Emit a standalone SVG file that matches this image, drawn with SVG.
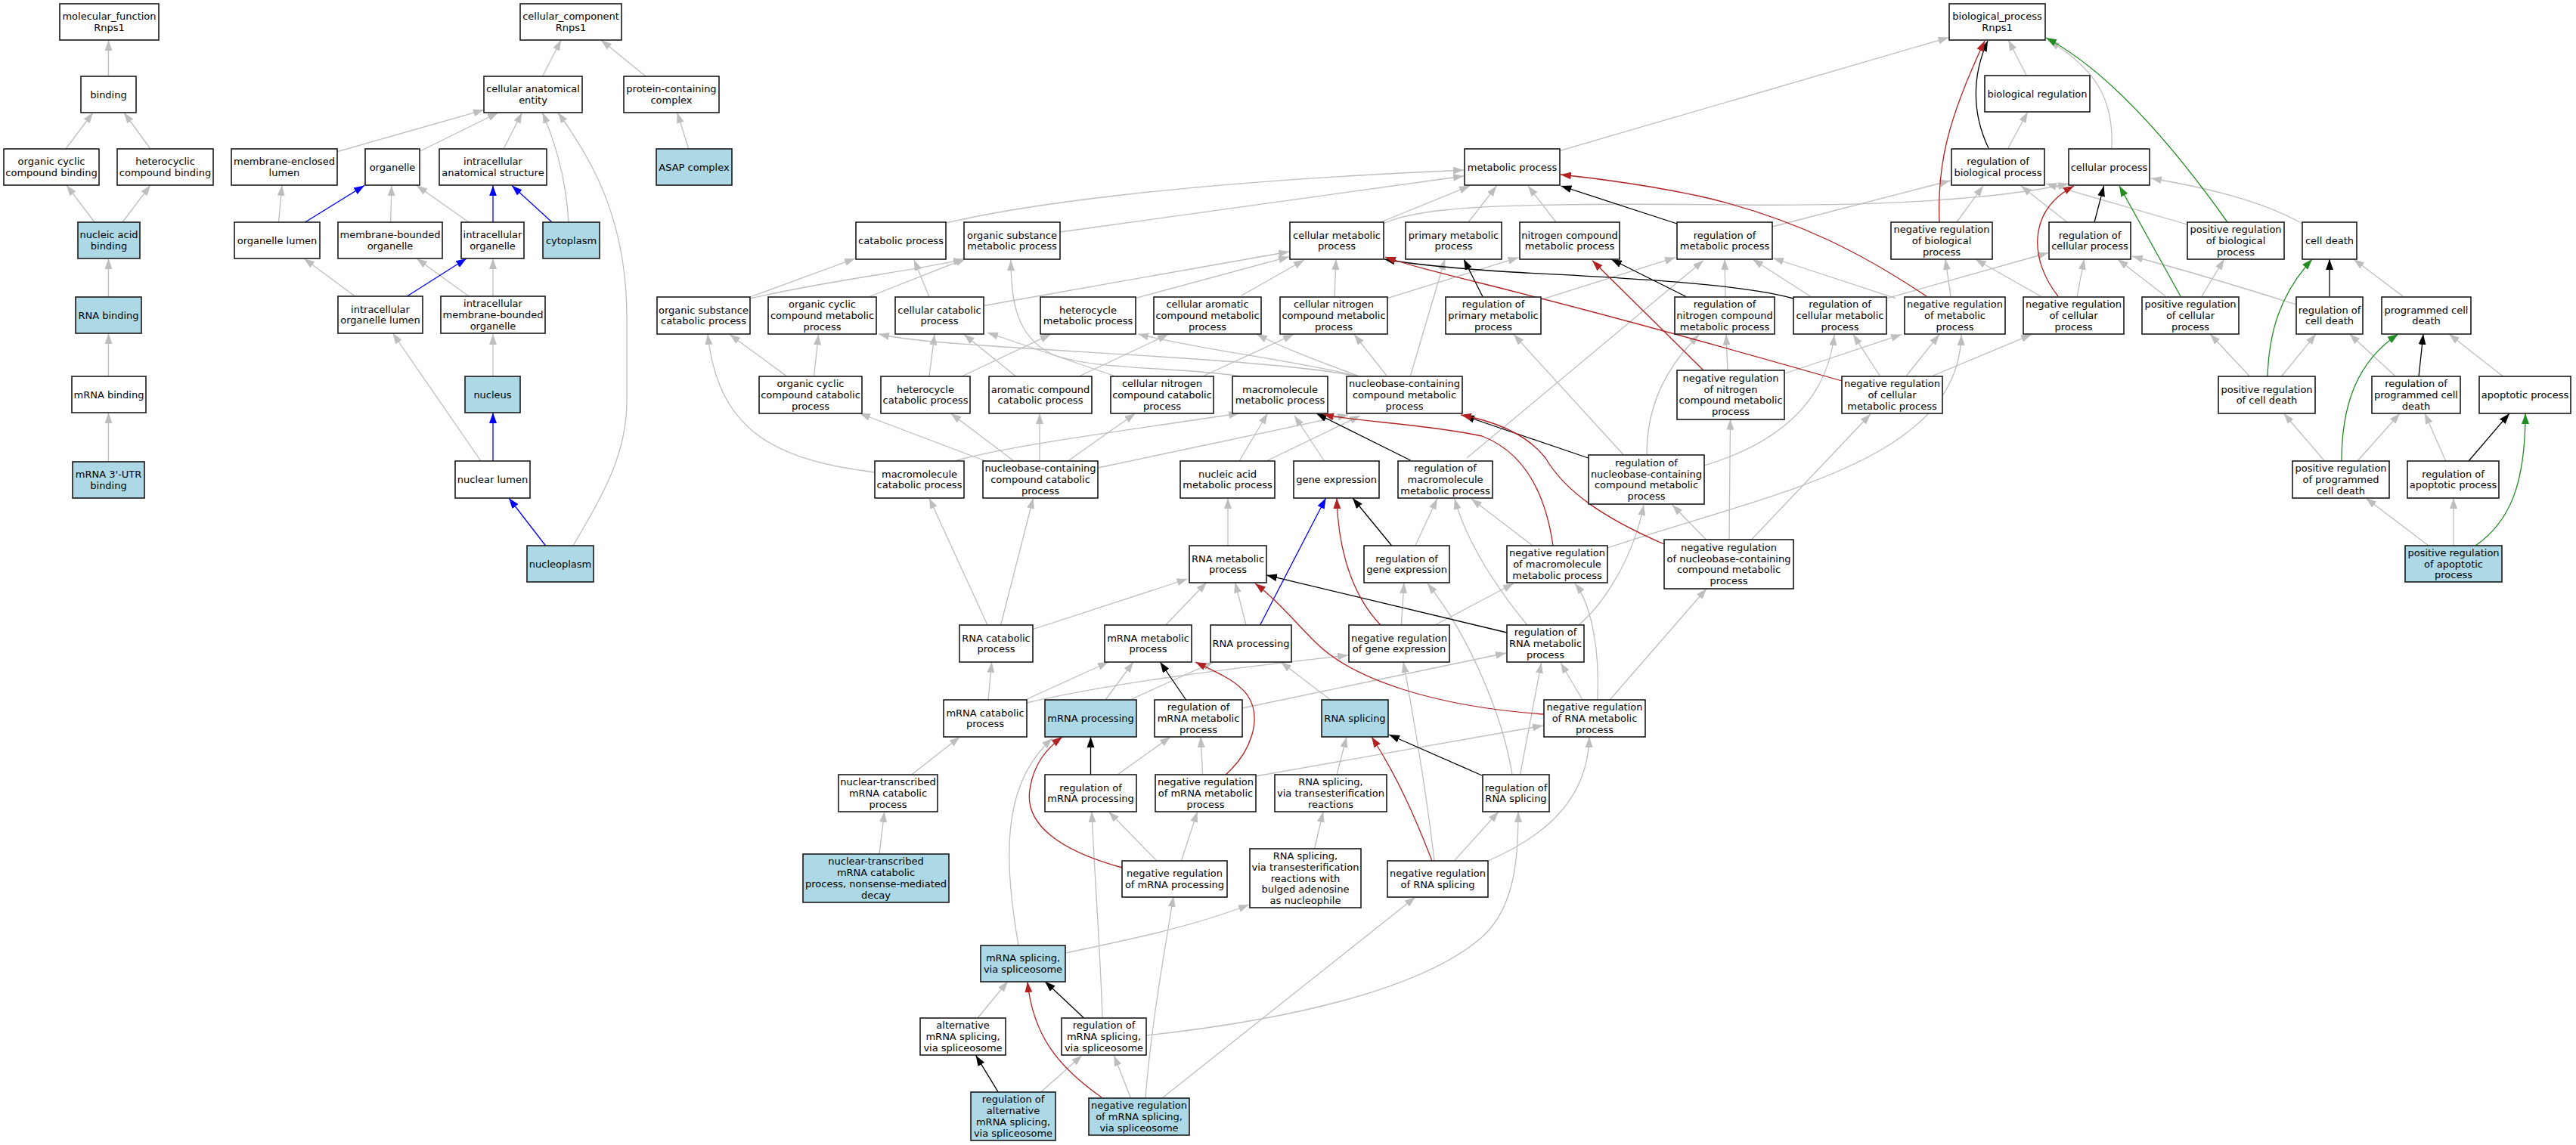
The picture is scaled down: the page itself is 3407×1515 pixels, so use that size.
<svg xmlns="http://www.w3.org/2000/svg" width="3407" height="1515" viewBox="0 0 3407 1515">
<defs>
<style>
.n rect{fill:#fff;stroke:#1a1a1a;stroke-width:1.6}
.n.a rect{fill:#add8e6}
.n text{font-family:"DejaVu Sans",sans-serif;font-size:13px;text-anchor:middle;fill:#000}
#edges path{fill:none;stroke-width:1.3}
.g{stroke:#bebebe;marker-end:url(#ag)}
.k{stroke:#000;marker-end:url(#ak)}
.r{stroke:#b22222;marker-end:url(#ar)}
.v{stroke:#228b22;marker-end:url(#av)}
.b{stroke:#0000ff;marker-end:url(#ab)}
</style>
<marker id="ag" viewBox="0 0 14 10" refX="14" refY="5" markerWidth="14" markerHeight="10" markerUnits="userSpaceOnUse" orient="auto"><path d="M0,0L14,5L0,10z" fill="#bebebe"/></marker>
<marker id="ak" viewBox="0 0 14 10" refX="14" refY="5" markerWidth="14" markerHeight="10" markerUnits="userSpaceOnUse" orient="auto"><path d="M0,0L14,5L0,10z" fill="#000"/></marker>
<marker id="ar" viewBox="0 0 14 10" refX="14" refY="5" markerWidth="14" markerHeight="10" markerUnits="userSpaceOnUse" orient="auto"><path d="M0,0L14,5L0,10z" fill="#b22222"/></marker>
<marker id="av" viewBox="0 0 14 10" refX="14" refY="5" markerWidth="14" markerHeight="10" markerUnits="userSpaceOnUse" orient="auto"><path d="M0,0L14,5L0,10z" fill="#228b22"/></marker>
<marker id="ab" viewBox="0 0 14 10" refX="14" refY="5" markerWidth="14" markerHeight="10" markerUnits="userSpaceOnUse" orient="auto"><path d="M0,0L14,5L0,10z" fill="#0000ff"/></marker>
</defs>
<rect x="0" y="0" width="3407" height="1515" fill="#fff"/>
<g id="edges">
<path class="g" d="M143.5,101L143.5,53"/>
<path class="g" d="M87,197L123,149"/>
<path class="g" d="M199,197L164,149"/>
<path class="g" d="M125,294L88,245"/>
<path class="g" d="M162,294L199,245"/>
<path class="g" d="M143.5,393L143.5,342"/>
<path class="g" d="M143.5,498L143.5,441"/>
<path class="g" d="M143.5,611L143.5,546"/>
<path class="g" d="M717.5,101L742,53"/>
<path class="g" d="M854,101L795,53"/>
<path class="g" d="M910.7,197L895.7,149"/>
<path class="g" d="M446.6,200.5L640,145.4"/>
<path class="g" d="M554.5,200.5L659,149"/>
<path class="g" d="M666,197L690.5,149"/>
<path class="g" d="M752,294Q748,220 717.5,149"/>
<path class="g" d="M758,722C800,650 829,600 829,530L829,420C829,300 790,220 738,149"/>
<path class="g" d="M368.5,294L373,245"/>
<path class="g" d="M516.6,294L518,245.4"/>
<path class="g" d="M620,294L551,245.4"/>
<path class="g" d="M469.5,392L402,342"/>
<path class="g" d="M620,392L551,342"/>
<path class="g" d="M652,392L652,342"/>
<path class="g" d="M652,498L652,442"/>
<path class="g" d="M636,610L519.5,441"/>
<path class="b" d="M403.5,294L482,245.4"/>
<path class="b" d="M652,294L652,245.4"/>
<path class="b" d="M730,294L677,245.4"/>
<path class="b" d="M538.4,392L617,342"/>
<path class="b" d="M652,610L652,546"/>
<path class="b" d="M722,722.5L673,659"/>
<path class="b" d="M1666.6,827L1753.6,659"/>
<path class="g" d="M2062.4,199.6L2577.5,49.6"/>
<path class="g" d="M2680.5,100.3L2656.3,53"/>
<path class="g" d="M2656,196L2681.7,148.3"/>
<path class="g" d="M2793,196C2796,130 2770,90 2710,54"/>
<path class="g" d="M2587.8,294L2623,246"/>
<path class="g" d="M2734,294L2673,246"/>
<path class="g" d="M2344,300L2579.5,239"/>
<path class="g" d="M2893,297L2706,243"/>
<path class="g" d="M1829,296C1880,272 2000,268 2300,271C2500,273 2650,262 2736,243"/>
<path class="g" d="M3045,296C3000,270 2930,250 2845,236"/>
<path class="g" d="M2747,392.5L2756.5,343"/>
<path class="g" d="M2863.5,391.6L2801,343"/>
<path class="g" d="M3037,403C2980,385 2900,360 2820,339"/>
<path class="g" d="M2496,394.6L2709,334.5"/>
<path class="g" d="M2580,392.5L2573,343"/>
<path class="g" d="M2700,392.5L2612.7,343"/>
<path class="g" d="M2912,392L2941.6,343"/>
<path class="g" d="M3178,392L3113,343"/>
<path class="g" d="M3017,498.5L3063,442"/>
<path class="g" d="M3169,498.5L3107.5,442"/>
<path class="g" d="M2976,498.5L2923,442"/>
<path class="g" d="M3311,498.5L3239,442"/>
<path class="g" d="M3074.5,610L3020.5,547"/>
<path class="g" d="M3118,610L3174,547"/>
<path class="g" d="M3234.7,610L3207,547"/>
<path class="g" d="M3212,722L3129,659"/>
<path class="g" d="M3245,722L3245,659"/>
<path class="g" d="M1251,295C1350,272 1550,242 1936,225"/>
<path class="g" d="M1402,307L1936,233"/>
<path class="g" d="M1826,294L1944,246"/>
<path class="g" d="M1942,294L1979.5,246"/>
<path class="g" d="M2058,294L2021,246"/>
<path class="g" d="M1301,404.5L1705,333"/>
<path class="g" d="M1501.5,394.6L1705,339.7"/>
<path class="g" d="M1642,391L1725,344"/>
<path class="g" d="M1765,392.5L1767,343"/>
<path class="g" d="M1865.5,497L1911,343"/>
<path class="g" d="M1835,394.6L2008.5,340.7"/>
<path class="g" d="M2282,392.5L2281,343"/>
<path class="g" d="M2395,392.5L2318,343"/>
<path class="g" d="M2507,394.6L2345,341.5"/>
<path class="g" d="M2037.6,396.6L2216,340.7"/>
<path class="g" d="M1940,606L2253,344.8"/>
<path class="g" d="M992,395C1100,370 1200,360 1275,343"/>
<path class="g" d="M1148.5,393L1277.6,342"/>
<path class="g" d="M1642,498C1560,485 1440,490 1390,468C1345,445 1337,400 1337,344"/>
<path class="g" d="M992,393L1131,342"/>
<path class="g" d="M1229,393L1209,344"/>
<path class="g" d="M1039.4,497L965,442.4"/>
<path class="g" d="M1157,625C1040,610 950,580 936,442"/>
<path class="g" d="M1076.7,497L1082.5,442.4"/>
<path class="g" d="M1795,498C1700,478 1450,468 1300,457C1220,452 1185,447 1162,442"/>
<path class="g" d="M1229,498L1236,442.4"/>
<path class="g" d="M1343.6,498L1275,442.4"/>
<path class="g" d="M1473,497L1306,440"/>
<path class="g" d="M1272,498L1389.6,442.4"/>
<path class="g" d="M1796,498C1720,478 1600,465 1505,442"/>
<path class="g" d="M1427,498L1545,442.4"/>
<path class="g" d="M1798,498C1750,480 1700,462 1662,442"/>
<path class="g" d="M1590.5,498L1711,442.4"/>
<path class="g" d="M1834,497L1791,442.6"/>
<path class="g" d="M2147.4,602L2002,442.6"/>
<path class="g" d="M2178,602C2178,540 2200,490 2247,443"/>
<path class="g" d="M2285,490.7L2283,442.6"/>
<path class="g" d="M2486,497L2451,442.6"/>
<path class="g" d="M2254,616C2340,590 2415,540 2426,443"/>
<path class="g" d="M2361,494L2515,442.6"/>
<path class="g" d="M2521.5,497L2565,442.6"/>
<path class="g" d="M2126,725C2350,650 2590,610 2594,443"/>
<path class="g" d="M2556.7,497L2687,442.6"/>
<path class="g" d="M2287,714.5L2288.5,554.6"/>
<path class="g" d="M2316,714.5L2474,548"/>
<path class="g" d="M1452,619L1783,549"/>
<path class="g" d="M1675,610L1799,550"/>
<path class="g" d="M1263,610C1330,590 1500,568 1639,547"/>
<path class="g" d="M1639,610L1676.5,547"/>
<path class="g" d="M1751.5,610L1712,550"/>
<path class="g" d="M1871.8,722L1900.8,660"/>
<path class="g" d="M2027,722L1946,660"/>
<path class="g" d="M2020,827C1985,785 1940,720 1924,660"/>
<path class="g" d="M2257,714.5L2211.7,668"/>
<path class="g" d="M2088,827C2120,800 2160,740 2174,668"/>
<path class="g" d="M1898,827L2002,772"/>
<path class="g" d="M2113,926C2116,860 2105,800 2083,772"/>
<path class="g" d="M2130,925L2257,779"/>
<path class="g" d="M1853.4,827L1857,771"/>
<path class="g" d="M2000,1025C1990,960 1950,850 1888,772"/>
<path class="g" d="M1365,833L1570.5,766"/>
<path class="g" d="M1541.7,827L1596,770.5"/>
<path class="g" d="M1648,827L1633.5,770.5"/>
<path class="g" d="M1624,722L1624,659"/>
<path class="g" d="M1306,827L1229,659"/>
<path class="g" d="M1323.6,827L1366.6,659"/>
<path class="g" d="M1303.5,610L1137,547"/>
<path class="g" d="M1341,610L1257.5,547"/>
<path class="g" d="M1375,610L1375,547"/>
<path class="g" d="M1412.5,610L1501.5,547"/>
<path class="g" d="M1307,926L1311.7,876"/>
<path class="g" d="M1356,926L1466,876"/>
<path class="g" d="M1358,930C1470,904 1620,885 1783,867"/>
<path class="g" d="M1462,926L1499,876"/>
<path class="g" d="M1494.5,926L1604.7,876"/>
<path class="g" d="M1347,1251C1330,1150 1320,1040 1392,977"/>
<path class="g" d="M1478,1025L1548,975"/>
<path class="g" d="M1590.6,1025L1588,975"/>
<path class="g" d="M1643,937L1992,864"/>
<path class="g" d="M1661,1027L2041,960"/>
<path class="g" d="M1759.7,926L1694,876"/>
<path class="g" d="M1768,1025L1781,975"/>
<path class="g" d="M2092.5,925L2064,877"/>
<path class="g" d="M1968,1139C2040,1108 2100,1060 2102,975"/>
<path class="g" d="M2010.5,1025L2038.6,877"/>
<path class="g" d="M1923.7,1138.6L1982,1074"/>
<path class="g" d="M1516,1370C1700,1350 1880,1310 1960,1240C2005,1200 2008,1130 2008,1074"/>
<path class="g" d="M1738.6,1123L1750,1074"/>
<path class="g" d="M1897,1139C1888,1060 1870,950 1856,876"/>
<path class="g" d="M1409,1261C1500,1242 1580,1225 1652,1197"/>
<path class="g" d="M1293,1347L1333,1298.5"/>
<path class="g" d="M1458,1347C1455,1250 1447,1150 1444,1074"/>
<path class="g" d="M1377,1444.7L1431,1396.4"/>
<path class="g" d="M1495.5,1452.7L1473.4,1396.4"/>
<path class="g" d="M1515,1453C1522,1360 1540,1260 1552,1186"/>
<path class="g" d="M1537,1453L1872,1187"/>
<path class="g" d="M1529.7,1138.6L1466.4,1074"/>
<path class="g" d="M1562.5,1138.6L1583.6,1074"/>
<path class="g" d="M1206,1024.7L1269.5,975"/>
<path class="g" d="M1163,1130L1169.7,1074"/>
<path class="k" d="M2630,196C2608,150 2608,100 2629,54"/>
<path class="k" d="M2770,294L2782.6,246"/>
<path class="k" d="M3081,392L3081,343"/>
<path class="k" d="M3199,498.5L3205,442"/>
<path class="k" d="M3265,610L3319,547"/>
<path class="k" d="M2218,296L2064.5,246"/>
<path class="k" d="M2372,395C2300,375 2150,368 2000,360C1920,355 1870,350 1831,343"/>
<path class="k" d="M1961,392.5L1936,343"/>
<path class="k" d="M2230,392.5L2131,343"/>
<path class="k" d="M2100.6,606L1936,550"/>
<path class="k" d="M1865.5,609L1741,547"/>
<path class="k" d="M1840.7,722L1789,659"/>
<path class="k" d="M1993,837L1675,761"/>
<path class="k" d="M1568.6,926L1534.4,876"/>
<path class="k" d="M1442.5,1025L1442.5,975"/>
<path class="k" d="M1960,1026L1837,972"/>
<path class="k" d="M1433.6,1347L1382,1298.5"/>
<path class="k" d="M1320,1444.7L1290.6,1396.4"/>
<path class="r" d="M2565,294C2562,220 2575,160 2625,54"/>
<path class="r" d="M2722,392C2685,345 2680,280 2743,246"/>
<path class="r" d="M2548,392C2470,340 2380,290 2250,260C2180,245 2120,237 2064,231"/>
<path class="r" d="M2436,504C2300,465 2100,410 1960,375C1900,360 1860,350 1832,340"/>
<path class="r" d="M2253,490L2106,344.8"/>
<path class="r" d="M2201,720C2120,685 2070,650 2044,606C2020,575 1980,558 1932,549"/>
<path class="r" d="M2054,722C2045,660 2020,600 1960,577C1880,560 1790,558 1750,548"/>
<path class="r" d="M1826,827C1795,795 1770,740 1768,659"/>
<path class="r" d="M2042,945C1900,935 1790,900 1740,850C1710,820 1690,795 1660,772"/>
<path class="r" d="M1484,1148C1400,1125 1355,1090 1362,1045C1367,1010 1385,990 1405,975"/>
<path class="r" d="M1621,1025C1655,995 1670,950 1650,920C1635,900 1610,890 1581,876"/>
<path class="r" d="M1894,1139C1875,1090 1850,1030 1814,975"/>
<path class="r" d="M1457,1452C1400,1412 1366,1370 1359,1299"/>
<path class="v" d="M2946,294C2890,215 2800,100 2706,50"/>
<path class="v" d="M2884,392L2803,246"/>
<path class="v" d="M2999,498C3001,440 3015,390 3058,343"/>
<path class="v" d="M3097,610C3097,540 3115,480 3172,442"/>
<path class="v" d="M3274,722C3320,690 3340,640 3340,547"/>
</g>
<g id="n_mf" class="n"><rect x="79" y="5" width="131" height="48"/><text><tspan x="144.5" y="26.2">molecular_function</tspan><tspan x="144.5" y="40.9">Rnps1</tspan></text></g>
<g id="n_bind" class="n"><rect x="107" y="101" width="73" height="48"/><text><tspan x="143.5" y="129.5">binding</tspan></text></g>
<g id="n_occb" class="n"><rect x="5" y="197" width="126" height="48"/><text><tspan x="68" y="218.2">organic cyclic</tspan><tspan x="68" y="232.9">compound binding</tspan></text></g>
<g id="n_hcb" class="n"><rect x="155" y="197" width="127" height="48"/><text><tspan x="218.5" y="218.2">heterocyclic</tspan><tspan x="218.5" y="232.9">compound binding</tspan></text></g>
<g id="n_nab" class="n a"><rect x="103" y="294" width="82" height="48"/><text><tspan x="144" y="315.2">nucleic acid</tspan><tspan x="144" y="329.9">binding</tspan></text></g>
<g id="n_rnab" class="n a"><rect x="100" y="393" width="87" height="48"/><text><tspan x="143.5" y="421.5">RNA binding</tspan></text></g>
<g id="n_mrnab" class="n"><rect x="95" y="498" width="98" height="48"/><text><tspan x="144" y="526.5">mRNA binding</tspan></text></g>
<g id="n_utr" class="n a"><rect x="96" y="611" width="95" height="48"/><text><tspan x="143.5" y="632.2">mRNA 3'-UTR</tspan><tspan x="143.5" y="646.9">binding</tspan></text></g>
<g id="n_cc" class="n"><rect x="688" y="5" width="134" height="48"/><text><tspan x="755" y="26.2">cellular_component</tspan><tspan x="755" y="40.9">Rnps1</tspan></text></g>
<g id="n_cae" class="n"><rect x="640" y="101" width="130" height="48"/><text><tspan x="705" y="122.2">cellular anatomical</tspan><tspan x="705" y="136.9">entity</tspan></text></g>
<g id="n_pcc" class="n"><rect x="825" y="101" width="126" height="48"/><text><tspan x="888" y="122.2">protein-containing</tspan><tspan x="888" y="136.9">complex</tspan></text></g>
<g id="n_asap" class="n a"><rect x="868" y="197" width="100" height="48"/><text><tspan x="918" y="225.5">ASAP complex</tspan></text></g>
<g id="n_mel" class="n"><rect x="306" y="197" width="140" height="48"/><text><tspan x="376" y="218.2">membrane-enclosed</tspan><tspan x="376" y="232.9">lumen</tspan></text></g>
<g id="n_org" class="n"><rect x="483" y="197" width="72" height="48"/><text><tspan x="519" y="225.5">organelle</tspan></text></g>
<g id="n_ias" class="n"><rect x="581" y="197" width="142" height="48"/><text><tspan x="652" y="218.2">intracellular</tspan><tspan x="652" y="232.9">anatomical structure</tspan></text></g>
<g id="n_ol" class="n"><rect x="310" y="294" width="113" height="48"/><text><tspan x="366.5" y="322.5">organelle lumen</tspan></text></g>
<g id="n_mbo" class="n"><rect x="447" y="294" width="138" height="48"/><text><tspan x="516" y="315.2">membrane-bounded</tspan><tspan x="516" y="329.9">organelle</tspan></text></g>
<g id="n_io" class="n"><rect x="610" y="294" width="83" height="48"/><text><tspan x="651.5" y="315.2">intracellular</tspan><tspan x="651.5" y="329.9">organelle</tspan></text></g>
<g id="n_cyto" class="n a"><rect x="718" y="294" width="75" height="48"/><text><tspan x="755.5" y="322.5">cytoplasm</tspan></text></g>
<g id="n_iol" class="n"><rect x="447" y="392" width="112" height="49"/><text><tspan x="503" y="413.7">intracellular</tspan><tspan x="503" y="428.4">organelle lumen</tspan></text></g>
<g id="n_imbo" class="n"><rect x="583" y="392" width="138" height="49"/><text><tspan x="652" y="406.3">intracellular</tspan><tspan x="652" y="421">membrane-bounded</tspan><tspan x="652" y="435.7">organelle</tspan></text></g>
<g id="n_nuc" class="n a"><rect x="615" y="498" width="73" height="48"/><text><tspan x="651.5" y="526.5">nucleus</tspan></text></g>
<g id="n_nl" class="n"><rect x="602" y="610" width="99" height="49"/><text><tspan x="651.5" y="639">nuclear lumen</tspan></text></g>
<g id="n_np" class="n a"><rect x="697" y="722" width="88" height="48"/><text><tspan x="741" y="750.5">nucleoplasm</tspan></text></g>
<g id="n_bp" class="n"><rect x="2578" y="5" width="127" height="48"/><text><tspan x="2641.5" y="26.2">biological_process</tspan><tspan x="2641.5" y="40.9">Rnps1</tspan></text></g>
<g id="n_breg" class="n"><rect x="2625" y="100" width="139" height="48"/><text><tspan x="2694.5" y="128.5">biological regulation</tspan></text></g>
<g id="n_mp" class="n"><rect x="1937" y="197" width="126" height="48"/><text><tspan x="2000" y="225.5">metabolic process</tspan></text></g>
<g id="n_rbp" class="n"><rect x="2581" y="197" width="123" height="48"/><text><tspan x="2642.5" y="218.2">regulation of</tspan><tspan x="2642.5" y="232.9">biological process</tspan></text></g>
<g id="n_cp" class="n"><rect x="2736" y="197" width="107" height="48"/><text><tspan x="2789.5" y="225.5">cellular process</tspan></text></g>
<g id="n_cat" class="n"><rect x="1132" y="294" width="119" height="49"/><text><tspan x="1191.5" y="323">catabolic process</tspan></text></g>
<g id="n_osmp" class="n"><rect x="1275" y="294" width="127" height="49"/><text><tspan x="1338.5" y="315.65">organic substance</tspan><tspan x="1338.5" y="330.35">metabolic process</tspan></text></g>
<g id="n_cmp" class="n"><rect x="1706" y="294" width="124" height="49"/><text><tspan x="1768" y="315.65">cellular metabolic</tspan><tspan x="1768" y="330.35">process</tspan></text></g>
<g id="n_pmp" class="n"><rect x="1859" y="294" width="127" height="49"/><text><tspan x="1922.5" y="315.65">primary metabolic</tspan><tspan x="1922.5" y="330.35">process</tspan></text></g>
<g id="n_ncmp" class="n"><rect x="2010" y="294" width="132" height="49"/><text><tspan x="2076" y="315.65">nitrogen compound</tspan><tspan x="2076" y="330.35">metabolic process</tspan></text></g>
<g id="n_rmp" class="n"><rect x="2218" y="294" width="126" height="49"/><text><tspan x="2281" y="315.65">regulation of</tspan><tspan x="2281" y="330.35">metabolic process</tspan></text></g>
<g id="n_nrbp" class="n"><rect x="2501" y="294" width="134" height="49"/><text><tspan x="2568" y="308.3">negative regulation</tspan><tspan x="2568" y="323">of biological</tspan><tspan x="2568" y="337.7">process</tspan></text></g>
<g id="n_rcp" class="n"><rect x="2710" y="294" width="108" height="49"/><text><tspan x="2764" y="315.65">regulation of</tspan><tspan x="2764" y="330.35">cellular process</tspan></text></g>
<g id="n_prbp" class="n"><rect x="2893" y="294" width="128" height="49"/><text><tspan x="2957" y="308.3">positive regulation</tspan><tspan x="2957" y="323">of biological</tspan><tspan x="2957" y="337.7">process</tspan></text></g>
<g id="n_cd" class="n"><rect x="3045" y="294" width="72" height="49"/><text><tspan x="3081" y="323">cell death</tspan></text></g>
<g id="n_oscp" class="n"><rect x="869" y="393" width="123" height="49"/><text><tspan x="930.5" y="414.65">organic substance</tspan><tspan x="930.5" y="429.35">catabolic process</tspan></text></g>
<g id="n_occmp" class="n"><rect x="1016" y="393" width="143" height="49"/><text><tspan x="1087.5" y="407.3">organic cyclic</tspan><tspan x="1087.5" y="422">compound metabolic</tspan><tspan x="1087.5" y="436.7">process</tspan></text></g>
<g id="n_ccat" class="n"><rect x="1184" y="393" width="117" height="49"/><text><tspan x="1242.5" y="414.65">cellular catabolic</tspan><tspan x="1242.5" y="429.35">process</tspan></text></g>
<g id="n_hmp" class="n"><rect x="1376" y="393" width="126" height="49"/><text><tspan x="1439" y="414.65">heterocycle</tspan><tspan x="1439" y="429.35">metabolic process</tspan></text></g>
<g id="n_camp" class="n"><rect x="1526" y="393" width="142" height="49"/><text><tspan x="1597" y="407.3">cellular aromatic</tspan><tspan x="1597" y="422">compound metabolic</tspan><tspan x="1597" y="436.7">process</tspan></text></g>
<g id="n_cncmp" class="n"><rect x="1693" y="393" width="142" height="49"/><text><tspan x="1764" y="407.3">cellular nitrogen</tspan><tspan x="1764" y="422">compound metabolic</tspan><tspan x="1764" y="436.7">process</tspan></text></g>
<g id="n_rpmp" class="n"><rect x="1912" y="393" width="126" height="49"/><text><tspan x="1975" y="407.3">regulation of</tspan><tspan x="1975" y="422">primary metabolic</tspan><tspan x="1975" y="436.7">process</tspan></text></g>
<g id="n_rncmp" class="n"><rect x="2215" y="393" width="132" height="49"/><text><tspan x="2281" y="407.3">regulation of</tspan><tspan x="2281" y="422">nitrogen compound</tspan><tspan x="2281" y="436.7">metabolic process</tspan></text></g>
<g id="n_rcmp" class="n"><rect x="2372" y="393" width="123" height="49"/><text><tspan x="2433.5" y="407.3">regulation of</tspan><tspan x="2433.5" y="422">cellular metabolic</tspan><tspan x="2433.5" y="436.7">process</tspan></text></g>
<g id="n_nrmp" class="n"><rect x="2519" y="393" width="133" height="49"/><text><tspan x="2585.5" y="407.3">negative regulation</tspan><tspan x="2585.5" y="422">of metabolic</tspan><tspan x="2585.5" y="436.7">process</tspan></text></g>
<g id="n_nrcp" class="n"><rect x="2676" y="393" width="133" height="49"/><text><tspan x="2742.5" y="407.3">negative regulation</tspan><tspan x="2742.5" y="422">of cellular</tspan><tspan x="2742.5" y="436.7">process</tspan></text></g>
<g id="n_prcp" class="n"><rect x="2833" y="393" width="128" height="49"/><text><tspan x="2897" y="407.3">positive regulation</tspan><tspan x="2897" y="422">of cellular</tspan><tspan x="2897" y="436.7">process</tspan></text></g>
<g id="n_rcd" class="n"><rect x="3037" y="393" width="88" height="49"/><text><tspan x="3081" y="414.65">regulation of</tspan><tspan x="3081" y="429.35">cell death</tspan></text></g>
<g id="n_pcd" class="n"><rect x="3150" y="393" width="118" height="49"/><text><tspan x="3209" y="414.65">programmed cell</tspan><tspan x="3209" y="429.35">death</tspan></text></g>
<g id="n_occat" class="n"><rect x="1004" y="498" width="136" height="49"/><text><tspan x="1072" y="512.3">organic cyclic</tspan><tspan x="1072" y="527">compound catabolic</tspan><tspan x="1072" y="541.7">process</tspan></text></g>
<g id="n_hcat" class="n"><rect x="1165" y="498" width="118" height="49"/><text><tspan x="1224" y="519.65">heterocycle</tspan><tspan x="1224" y="534.35">catabolic process</tspan></text></g>
<g id="n_acat" class="n"><rect x="1308" y="498" width="136" height="49"/><text><tspan x="1376" y="519.65">aromatic compound</tspan><tspan x="1376" y="534.35">catabolic process</tspan></text></g>
<g id="n_cncat" class="n"><rect x="1469" y="498" width="136" height="49"/><text><tspan x="1537" y="512.3">cellular nitrogen</tspan><tspan x="1537" y="527">compound catabolic</tspan><tspan x="1537" y="541.7">process</tspan></text></g>
<g id="n_mmp" class="n"><rect x="1630" y="498" width="126" height="49"/><text><tspan x="1693" y="519.65">macromolecule</tspan><tspan x="1693" y="534.35">metabolic process</tspan></text></g>
<g id="n_nbmp" class="n"><rect x="1781" y="498" width="153" height="49"/><text><tspan x="1857.5" y="512.3">nucleobase-containing</tspan><tspan x="1857.5" y="527">compound metabolic</tspan><tspan x="1857.5" y="541.7">process</tspan></text></g>
<g id="n_nrncmp" class="n"><rect x="2218" y="490" width="142" height="65"/><text><tspan x="2289" y="505">negative regulation</tspan><tspan x="2289" y="519.7">of nitrogen</tspan><tspan x="2289" y="534.4">compound metabolic</tspan><tspan x="2289" y="549.1">process</tspan></text></g>
<g id="n_nrcmp" class="n"><rect x="2436" y="498" width="133" height="49"/><text><tspan x="2502.5" y="512.3">negative regulation</tspan><tspan x="2502.5" y="527">of cellular</tspan><tspan x="2502.5" y="541.7">metabolic process</tspan></text></g>
<g id="n_prcd" class="n"><rect x="2934" y="498" width="128" height="49"/><text><tspan x="2998" y="519.65">positive regulation</tspan><tspan x="2998" y="534.35">of cell death</tspan></text></g>
<g id="n_rpcd" class="n"><rect x="3137" y="498" width="117" height="49"/><text><tspan x="3195.5" y="512.3">regulation of</tspan><tspan x="3195.5" y="527">programmed cell</tspan><tspan x="3195.5" y="541.7">death</tspan></text></g>
<g id="n_ap" class="n"><rect x="3279" y="498" width="121" height="49"/><text><tspan x="3339.5" y="527">apoptotic process</tspan></text></g>
<g id="n_mcat" class="n"><rect x="1157" y="610" width="118" height="49"/><text><tspan x="1216" y="631.65">macromolecule</tspan><tspan x="1216" y="646.35">catabolic process</tspan></text></g>
<g id="n_nbcat" class="n"><rect x="1300" y="610" width="152" height="49"/><text><tspan x="1376" y="624.3">nucleobase-containing</tspan><tspan x="1376" y="639">compound catabolic</tspan><tspan x="1376" y="653.7">process</tspan></text></g>
<g id="n_namp" class="n"><rect x="1561" y="610" width="125" height="49"/><text><tspan x="1623.5" y="631.65">nucleic acid</tspan><tspan x="1623.5" y="646.35">metabolic process</tspan></text></g>
<g id="n_ge" class="n"><rect x="1711" y="610" width="113" height="49"/><text><tspan x="1767.5" y="639">gene expression</tspan></text></g>
<g id="n_rmmp" class="n"><rect x="1849" y="610" width="125" height="49"/><text><tspan x="1911.5" y="624.3">regulation of</tspan><tspan x="1911.5" y="639">macromolecule</tspan><tspan x="1911.5" y="653.7">metabolic process</tspan></text></g>
<g id="n_rnbmp" class="n"><rect x="2101" y="602" width="153" height="65"/><text><tspan x="2177.5" y="617">regulation of</tspan><tspan x="2177.5" y="631.7">nucleobase-containing</tspan><tspan x="2177.5" y="646.4">compound metabolic</tspan><tspan x="2177.5" y="661.1">process</tspan></text></g>
<g id="n_pprcd" class="n"><rect x="3032" y="610" width="128" height="49"/><text><tspan x="3096" y="624.3">positive regulation</tspan><tspan x="3096" y="639">of programmed</tspan><tspan x="3096" y="653.7">cell death</tspan></text></g>
<g id="n_rap" class="n"><rect x="3184" y="610" width="121" height="49"/><text><tspan x="3244.5" y="631.65">regulation of</tspan><tspan x="3244.5" y="646.35">apoptotic process</tspan></text></g>
<g id="n_rnamp" class="n"><rect x="1573" y="722" width="102" height="49"/><text><tspan x="1624" y="743.65">RNA metabolic</tspan><tspan x="1624" y="758.35">process</tspan></text></g>
<g id="n_rge" class="n"><rect x="1804" y="722" width="113" height="49"/><text><tspan x="1860.5" y="743.65">regulation of</tspan><tspan x="1860.5" y="758.35">gene expression</tspan></text></g>
<g id="n_nrmmp" class="n"><rect x="1993" y="722" width="133" height="49"/><text><tspan x="2059.5" y="736.3">negative regulation</tspan><tspan x="2059.5" y="751">of macromolecule</tspan><tspan x="2059.5" y="765.7">metabolic process</tspan></text></g>
<g id="n_nrnbmp" class="n"><rect x="2201" y="714" width="171" height="65"/><text><tspan x="2286.5" y="729">negative regulation</tspan><tspan x="2286.5" y="743.7">of nucleobase-containing</tspan><tspan x="2286.5" y="758.4">compound metabolic</tspan><tspan x="2286.5" y="773.1">process</tspan></text></g>
<g id="n_prap" class="n a"><rect x="3181" y="722" width="128" height="48"/><text><tspan x="3245" y="735.8">positive regulation</tspan><tspan x="3245" y="750.5">of apoptotic</tspan><tspan x="3245" y="765.2">process</tspan></text></g>
<g id="n_rnacat" class="n"><rect x="1269" y="827" width="97" height="49"/><text><tspan x="1317.5" y="848.65">RNA catabolic</tspan><tspan x="1317.5" y="863.35">process</tspan></text></g>
<g id="n_mrnamp" class="n"><rect x="1461" y="827" width="115" height="49"/><text><tspan x="1518.5" y="848.65">mRNA metabolic</tspan><tspan x="1518.5" y="863.35">process</tspan></text></g>
<g id="n_rnap" class="n"><rect x="1601" y="827" width="107" height="49"/><text><tspan x="1654.5" y="856">RNA processing</tspan></text></g>
<g id="n_nrge" class="n"><rect x="1784" y="827" width="133" height="49"/><text><tspan x="1850.5" y="848.65">negative regulation</tspan><tspan x="1850.5" y="863.35">of gene expression</tspan></text></g>
<g id="n_rrnamp" class="n"><rect x="1993" y="827" width="102" height="49"/><text><tspan x="2044" y="841.3">regulation of</tspan><tspan x="2044" y="856">RNA metabolic</tspan><tspan x="2044" y="870.7">process</tspan></text></g>
<g id="n_mrnacat" class="n"><rect x="1248" y="926" width="110" height="49"/><text><tspan x="1303" y="947.65">mRNA catabolic</tspan><tspan x="1303" y="962.35">process</tspan></text></g>
<g id="n_mrnaproc" class="n a"><rect x="1382" y="926" width="121" height="49"/><text><tspan x="1442.5" y="955">mRNA processing</tspan></text></g>
<g id="n_rmrnamp" class="n"><rect x="1527" y="926" width="116" height="49"/><text><tspan x="1585" y="940.3">regulation of</tspan><tspan x="1585" y="955">mRNA metabolic</tspan><tspan x="1585" y="969.7">process</tspan></text></g>
<g id="n_rnas" class="n a"><rect x="1748" y="926" width="88" height="49"/><text><tspan x="1792" y="955">RNA splicing</tspan></text></g>
<g id="n_nrrnamp" class="n"><rect x="2042" y="926" width="134" height="49"/><text><tspan x="2109" y="940.3">negative regulation</tspan><tspan x="2109" y="955">of RNA metabolic</tspan><tspan x="2109" y="969.7">process</tspan></text></g>
<g id="n_ntmc" class="n"><rect x="1109" y="1025" width="131" height="49"/><text><tspan x="1174.5" y="1039.3">nuclear-transcribed</tspan><tspan x="1174.5" y="1054">mRNA catabolic</tspan><tspan x="1174.5" y="1068.7">process</tspan></text></g>
<g id="n_rmrnaproc" class="n"><rect x="1382" y="1025" width="121" height="49"/><text><tspan x="1442.5" y="1046.65">regulation of</tspan><tspan x="1442.5" y="1061.35">mRNA processing</tspan></text></g>
<g id="n_nrmrnamp" class="n"><rect x="1528" y="1025" width="133" height="49"/><text><tspan x="1594.5" y="1039.3">negative regulation</tspan><tspan x="1594.5" y="1054">of mRNA metabolic</tspan><tspan x="1594.5" y="1068.7">process</tspan></text></g>
<g id="n_rnast" class="n"><rect x="1686" y="1025" width="148" height="49"/><text><tspan x="1760" y="1039.3">RNA splicing,</tspan><tspan x="1760" y="1054">via transesterification</tspan><tspan x="1760" y="1068.7">reactions</tspan></text></g>
<g id="n_rrnas" class="n"><rect x="1961" y="1025" width="88" height="49"/><text><tspan x="2005" y="1046.65">regulation of</tspan><tspan x="2005" y="1061.35">RNA splicing</tspan></text></g>
<g id="n_nmd" class="n a"><rect x="1062" y="1130" width="193" height="64"/><text><tspan x="1158.5" y="1144.45">nuclear-transcribed</tspan><tspan x="1158.5" y="1159.15">mRNA catabolic</tspan><tspan x="1158.5" y="1173.85">process, nonsense-mediated</tspan><tspan x="1158.5" y="1188.55">decay</tspan></text></g>
<g id="n_nrmrnaproc" class="n"><rect x="1484" y="1139" width="139" height="48"/><text><tspan x="1553.5" y="1160.15">negative regulation</tspan><tspan x="1553.5" y="1174.85">of mRNA processing</tspan></text></g>
<g id="n_bulged" class="n"><rect x="1653" y="1123" width="147" height="78"/><text><tspan x="1726.5" y="1137.1">RNA splicing,</tspan><tspan x="1726.5" y="1151.8">via transesterification</tspan><tspan x="1726.5" y="1166.5">reactions with</tspan><tspan x="1726.5" y="1181.2">bulged adenosine</tspan><tspan x="1726.5" y="1195.9">as nucleophile</tspan></text></g>
<g id="n_nrrnas" class="n"><rect x="1835" y="1139" width="133" height="48"/><text><tspan x="1901.5" y="1160.15">negative regulation</tspan><tspan x="1901.5" y="1174.85">of RNA splicing</tspan></text></g>
<g id="n_mss" class="n a"><rect x="1297" y="1251" width="112" height="48"/><text><tspan x="1353" y="1272.15">mRNA splicing,</tspan><tspan x="1353" y="1286.85">via spliceosome</tspan></text></g>
<g id="n_amss" class="n"><rect x="1217" y="1347" width="113" height="49"/><text><tspan x="1273.5" y="1361.3">alternative</tspan><tspan x="1273.5" y="1376">mRNA splicing,</tspan><tspan x="1273.5" y="1390.7">via spliceosome</tspan></text></g>
<g id="n_rmss" class="n"><rect x="1404" y="1347" width="112" height="49"/><text><tspan x="1460" y="1361.3">regulation of</tspan><tspan x="1460" y="1376">mRNA splicing,</tspan><tspan x="1460" y="1390.7">via spliceosome</tspan></text></g>
<g id="n_rams" class="n a"><rect x="1284" y="1445" width="112" height="64"/><text><tspan x="1340" y="1459.45">regulation of</tspan><tspan x="1340" y="1474.15">alternative</tspan><tspan x="1340" y="1488.85">mRNA splicing,</tspan><tspan x="1340" y="1503.55">via spliceosome</tspan></text></g>
<g id="n_nrmss" class="n a"><rect x="1440" y="1453" width="133" height="49"/><text><tspan x="1506.5" y="1467.3">negative regulation</tspan><tspan x="1506.5" y="1482">of mRNA splicing,</tspan><tspan x="1506.5" y="1496.7">via spliceosome</tspan></text></g>
</svg>
